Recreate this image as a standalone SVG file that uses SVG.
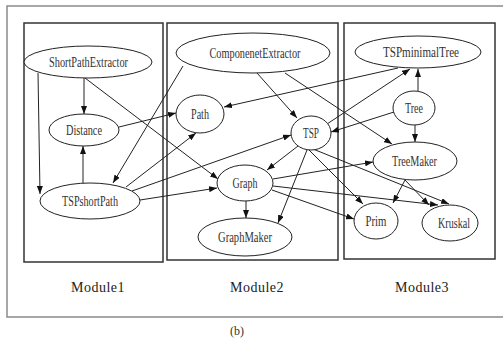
<svg xmlns="http://www.w3.org/2000/svg" width="503" height="340" viewBox="0 0 503 340">
<style>
.frame{fill:none;stroke:#8a8a8a;stroke-width:1.5}
.mod{fill:none;stroke:#333;stroke-width:1.5}
.node ellipse{fill:#fff;stroke:#222;stroke-width:1}
.node text{font-family:"Liberation Serif","Times New Roman",serif;font-size:15px;fill:#333;text-anchor:middle}
.lbl{font-family:"Liberation Serif","Times New Roman",serif;font-size:14px;fill:#222;text-anchor:middle;letter-spacing:0.5px}
.cap{font-family:"Liberation Serif","Times New Roman",serif;font-size:12px;fill:#333;text-anchor:middle}
#edges line{stroke:#222;stroke-width:1;marker-end:url(#ah)}
</style>
<defs>
<marker id="ah" viewBox="0 0 8 6" refX="8" refY="3" markerWidth="8" markerHeight="6" markerUnits="userSpaceOnUse" orient="auto">
<path d="M0,0 L8,3 L0,6 z" fill="#111"/>
</marker>
</defs>
<rect width="503" height="340" fill="#fff"/>
<path class="frame" d="M503,6 H7 V317 H503"/>
<g id="modules">
<rect class="mod" x="24" y="23" width="139" height="239"/>
<rect class="mod" x="167" y="23" width="171" height="237"/>
<rect class="mod" x="344" y="23" width="151" height="236"/>
<text class="lbl" x="98" y="292">Module1</text>
<text class="lbl" x="257" y="292">Module2</text>
<text class="lbl" x="422" y="292">Module3</text>
<text class="cap" x="237" y="335">(b)</text>
</g>
<g id="edges">
<line x1="84" y1="78" x2="84" y2="114"/>
<line x1="38" y1="73" x2="40" y2="194"/>
<line x1="83" y1="183" x2="83" y2="146"/>
<line x1="85" y1="78" x2="218" y2="179"/>
<line x1="119" y1="127" x2="176" y2="113"/>
<line x1="183" y1="66" x2="113" y2="183"/>
<line x1="126" y1="187" x2="196" y2="133"/>
<line x1="132" y1="191" x2="291" y2="135"/>
<line x1="140" y1="200" x2="217" y2="188"/>
<line x1="257" y1="73" x2="297" y2="118"/>
<line x1="285" y1="73" x2="392" y2="144"/>
<line x1="398" y1="68" x2="224" y2="107"/>
<line x1="327" y1="124" x2="410" y2="69"/>
<line x1="418" y1="91" x2="418" y2="69"/>
<line x1="415" y1="125" x2="415" y2="142"/>
<line x1="394" y1="112" x2="331" y2="132"/>
<line x1="298" y1="146" x2="267" y2="170"/>
<line x1="307" y1="150" x2="278" y2="223"/>
<line x1="309" y1="150" x2="363" y2="204"/>
<line x1="313" y1="149" x2="449" y2="204"/>
<line x1="273" y1="179" x2="373" y2="162"/>
<line x1="272" y1="190" x2="354" y2="219"/>
<line x1="273" y1="186" x2="438" y2="205"/>
<line x1="246" y1="201" x2="246" y2="218"/>
<line x1="405" y1="180" x2="393" y2="203"/>
<line x1="405" y1="180" x2="429" y2="205"/>
</g>
<g id="ShortPathExtractor" class="node"><ellipse cx="88" cy="62" rx="64" ry="16"/><text x="88.5" y="67" textLength="79" lengthAdjust="spacingAndGlyphs">ShortPathExtractor</text></g>
<g id="Distance" class="node"><ellipse cx="84" cy="130" rx="35" ry="16"/><text x="84" y="135" textLength="36" lengthAdjust="spacingAndGlyphs">Distance</text></g>
<g id="TSPshortPath" class="node"><ellipse cx="90" cy="201" rx="50" ry="18"/><text x="90" y="206" textLength="56" lengthAdjust="spacingAndGlyphs">TSPshortPath</text></g>
<g id="ComponenetExtractor" class="node"><ellipse cx="253" cy="53" rx="77" ry="20"/><text x="255" y="58" textLength="91" lengthAdjust="spacingAndGlyphs">ComponenetExtractor</text></g>
<g id="Path" class="node"><ellipse cx="200" cy="114" rx="24" ry="19"/><text x="200" y="119" textLength="18" lengthAdjust="spacingAndGlyphs">Path</text></g>
<g id="TSP" class="node"><ellipse cx="311" cy="133" rx="20" ry="17"/><text x="311" y="138" textLength="16" lengthAdjust="spacingAndGlyphs">TSP</text></g>
<g id="Graph" class="node"><ellipse cx="245" cy="183" rx="28" ry="18"/><text x="245" y="188" textLength="25" lengthAdjust="spacingAndGlyphs">Graph</text></g>
<g id="GraphMaker" class="node"><ellipse cx="245" cy="237" rx="47" ry="19"/><text x="245" y="242" textLength="54" lengthAdjust="spacingAndGlyphs">GraphMaker</text></g>
<g id="TSPminimalTree" class="node"><ellipse cx="418" cy="52" rx="63" ry="16"/><text x="421" y="57" textLength="76" lengthAdjust="spacingAndGlyphs">TSPminimalTree</text></g>
<g id="Tree" class="node"><ellipse cx="414" cy="108" rx="21" ry="17"/><text x="414" y="113" textLength="18" lengthAdjust="spacingAndGlyphs">Tree</text></g>
<g id="TreeMaker" class="node"><ellipse cx="415" cy="161" rx="42" ry="19"/><text x="414.5" y="166" textLength="45" lengthAdjust="spacingAndGlyphs">TreeMaker</text></g>
<g id="Prim" class="node"><ellipse cx="376" cy="221" rx="22" ry="18"/><text x="376" y="226" textLength="21" lengthAdjust="spacingAndGlyphs">Prim</text></g>
<g id="Kruskal" class="node"><ellipse cx="450" cy="223" rx="28" ry="18"/><text x="454" y="228" textLength="32" lengthAdjust="spacingAndGlyphs">Kruskal</text></g>
</svg>
